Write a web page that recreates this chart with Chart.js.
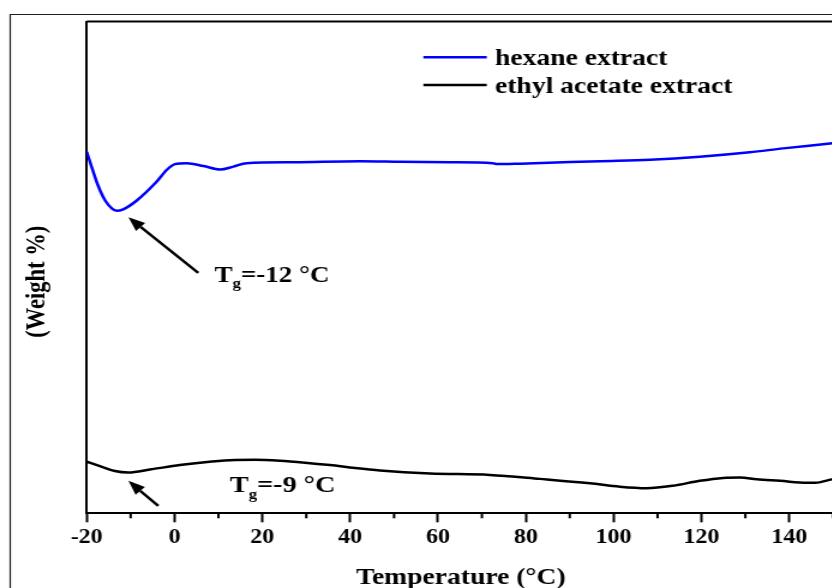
<!DOCTYPE html>
<html>
<head>
<meta charset="utf-8">
<script src="https://cdn.jsdelivr.net/npm/chart.js@4.4.0/dist/chart.umd.min.js"></script>
<style>
    html, body { margin: 0; padding: 0; background: #fff; }
    #wrap { width: 832px; height: 588px; overflow: hidden; position: relative; }
    #tgaChart { display: block; }
</style>
</head>
<body>
<div id="wrap">
    <canvas id="tgaChart" width="720" height="588" style="width:864px;height:588px"></canvas>
</div>
<script>
// hexane extract (temperature in °C, weight %)
const hexaneTemp = [-20, -18.9, -17.4, -15.8, -14.3, -13.2, -11.7, -8.6, -4.1, -1.8, 0.1, 2.8, 6.6, 10.4, 13.4, 16.4,
    27.1, 42.2, 51.4, 62.7, 72.5, 73.4, 78.7, 96.9, 108.3, 119.6, 131.0, 138.6, 149.3, 155];
const hexaneWeight = [73.5, 70.5, 66.6, 63.6, 62.0, 61.5, 61.8, 63.6, 67.4, 69.8, 71.0, 71.2, 70.6, 69.9, 70.5, 71.2,
    71.4, 71.6, 71.5, 71.4, 71.2, 71.0, 71.1, 71.6, 71.9, 72.5, 73.4, 74.2, 75.2, 75.8];

// ethyl acetate extract
const ethylTemp = [-20, -17.0, -13.6, -10.5, -5.6, 1.2, 6.9, 12.6, 18.3, 24.0, 29.7, 35.4, 41.1, 46.8, 58.2, 71.8,
    83.2, 94.6, 101.4, 107.5, 113.5, 119.6, 124.9, 128.8, 132.6, 137.9, 144.0, 145.9, 149.7, 155];
const ethylWeight = [10.5, 9.6, 8.6, 8.3, 8.9, 9.8, 10.4, 10.8, 10.9, 10.7, 10.3, 9.8, 9.2, 8.7, 8.1, 7.8,
    7.0, 6.1, 5.4, 5.1, 5.6, 6.6, 7.2, 7.3, 6.9, 6.6, 6.2, 6.2, 6.9, 7.6];

const majorTicks = [-20, 0, 20, 40, 60, 80, 100, 120, 140];
const minorTicks = [-10, 10, 30, 50, 70, 90, 110, 130, 150];

const seriesNames = ['hexane extract', 'ethyl acetate extract'];
const seriesColors = ['#0000ff', '#000000'];

// Tg marks: [label, font size, text x, text y, arrow tail x, tail y, arrow tip x, tip y]
const tgLabels = [
    ['=-12 °C', 22.5, 9.1, 47.0, 5.4, 48.9, -10.5, 60.2],
    ['=-9 °C', 23.5, 12.6, 4.3, -3.7, 1.5, -10.5, 6.6]
];

const serif = '"Liberation Serif", "Times New Roman", serif';

function points(xs, ys) {
    return xs.map((x, i) => ({ x: x, y: ys[i] }));
}

function drawArrow(ctx, x1, y1, x2, y2) {
    const ang = Math.atan2(y2 - y1, x2 - x1);
    const len = 14, half = 5.5;
    const bx = x2 - len * Math.cos(ang), by = y2 - len * Math.sin(ang);
    ctx.beginPath();
    ctx.moveTo(x1, y1);
    ctx.lineTo(bx, by);
    ctx.lineWidth = 2.5;
    ctx.strokeStyle = '#000';
    ctx.stroke();
    ctx.beginPath();
    ctx.moveTo(x2, y2);
    ctx.lineTo(bx + half * Math.sin(ang), by - half * Math.cos(ang));
    ctx.lineTo(bx - half * Math.sin(ang), by + half * Math.cos(ang));
    ctx.closePath();
    ctx.fillStyle = '#000';
    ctx.fill();
}

const decorPlugin = {
    id: 'decor',
    beforeDraw(chart) {
        const ctx = chart.ctx;
        ctx.save();
        ctx.fillStyle = '#fff';
        ctx.fillRect(0, 0, chart.width, chart.height);
        // outer frame
        ctx.strokeStyle = '#222';
        ctx.lineWidth = 1.2;
        ctx.beginPath();
        ctx.moveTo(8.5, chart.height);
        ctx.lineTo(8.5, 14.5);
        ctx.lineTo(chart.width, 14.5);
        ctx.stroke();
        ctx.restore();
    },
    afterDraw(chart) {
        const ctx = chart.ctx;
        const area = chart.chartArea;
        const xs = chart.scales.x, ys = chart.scales.y;
        ctx.save();

        // top and right sides of the plot box
        ctx.strokeStyle = '#000';
        ctx.lineWidth = 2;
        ctx.beginPath();
        ctx.moveTo(area.left, area.top);
        ctx.lineTo(area.right, area.top);
        ctx.lineTo(area.right, area.bottom);
        ctx.stroke();

        // minor ticks
        minorTicks.forEach(v => {
            const px = xs.getPixelForValue(v);
            ctx.beginPath();
            ctx.moveTo(px, area.bottom);
            ctx.lineTo(px, area.bottom + 5);
            ctx.stroke();
        });

        // legend
        ctx.font = 'bold 23px ' + serif;
        ctx.textBaseline = 'alphabetic';
        ctx.textAlign = 'left';
        const legY = [57.3, 85];
        const txtY = [65, 93];
        seriesNames.forEach((name, i) => {
            ctx.strokeStyle = seriesColors[i];
            ctx.lineWidth = 2.5;
            ctx.beginPath();
            ctx.moveTo(352.8, legY[i]);
            ctx.lineTo(405.6, legY[i]);
            ctx.stroke();
            ctx.fillStyle = '#000';
            ctx.fillText(name, 412.5, txtY[i]);
        });

        // axis titles
        ctx.fillStyle = '#000';
        ctx.font = 'bold 23px ' + serif;
        ctx.textAlign = 'center';
        ctx.fillText('Temperature (°C)', 384, 584);

        ctx.save();
        ctx.translate(31.3, 281.7);
        ctx.rotate(-Math.PI / 2);
        ctx.font = 'bold 22.5px ' + serif;
        ctx.textBaseline = 'middle';
        ctx.fillText('(Weight %)', 0, 0);
        ctx.restore();

        // Tg annotations
        tgLabels.forEach(t => {
            const [label, size, tx, ty, ax1, ay1, ax2, ay2] = t;
            let px = xs.getPixelForValue(tx);
            const py = ys.getPixelForValue(ty);
            ctx.textAlign = 'left';
            ctx.textBaseline = 'alphabetic';
            ctx.font = 'bold ' + size + 'px ' + serif;
            ctx.fillText('T', px, py);
            px += ctx.measureText('T').width;
            ctx.font = 'bold ' + Math.round(size * 0.6) + 'px ' + serif;
            ctx.fillText('g', px, py + size * 0.28);
            px += ctx.measureText('g').width;
            ctx.font = 'bold ' + size + 'px ' + serif;
            ctx.fillText(label, px, py);

            drawArrow(ctx, xs.getPixelForValue(ax1), ys.getPixelForValue(ay1),
                xs.getPixelForValue(ax2), ys.getPixelForValue(ay2));
        });

        ctx.restore();
    }
};

const ctx = document.getElementById('tgaChart').getContext('2d');
const tgaChart = new Chart(ctx, {
    type: 'line',
    data: {
        datasets: [{
            label: seriesNames[0],
            data: points(hexaneTemp, hexaneWeight),
            borderColor: seriesColors[0],
            borderWidth: 2.5,
            pointRadius: 0,
            cubicInterpolationMode: 'monotone',
            fill: false
        }, {
            label: seriesNames[1],
            data: points(ethylTemp, ethylWeight),
            borderColor: seriesColors[1],
            borderWidth: 2.5,
            pointRadius: 0,
            cubicInterpolationMode: 'monotone',
            fill: false
        }]
    },
    options: {
        responsive: false,
        devicePixelRatio: 1,
        animation: false,
        layout: { padding: { top: 21.5, right: 7.4, left: 0, bottom: 0 } },
        plugins: {
            legend: { display: false },
            tooltip: { enabled: false }
        },
        scales: {
            x: {
                type: 'linear',
                min: -20,
                max: 155,
                afterBuildTicks: s => { s.ticks = majorTicks.map(v => ({ value: v })); },
                afterFit: s => { s.height = 588 - 513.3; },
                ticks: {
                    color: '#000',
                    padding: 4,
                    maxRotation: 0,
                    autoSkip: false,
                    font: { family: serif, weight: 'bold', size: 20 }
                },
                grid: { drawOnChartArea: false, tickLength: 9, tickWidth: 2, tickColor: '#000' },
                border: { color: '#000', width: 2 }
            },
            y: {
                min: 0,
                max: 100,
                afterFit: s => { s.width = 72.25; },
                ticks: { display: false },
                grid: { drawOnChartArea: false, drawTicks: false },
                border: { color: '#000', width: 2 }
            }
        }
    },
    plugins: [decorPlugin]
});
</script>
</body>
</html>
